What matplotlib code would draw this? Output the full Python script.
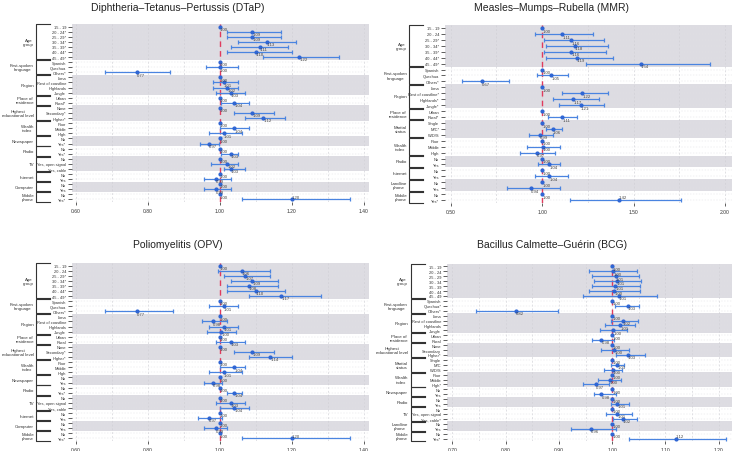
import numpy as np
import matplotlib.pyplot as plt
from matplotlib.transforms import blended_transform_factory

plt.rcParams['font.family'] = ['Liberation Sans', 'DejaVu Sans']

nan = np.nan

# ---------------- DTaP ----------------
dtap_groups = ["Age\ngroup", "First-spoken\nlanguage", "Region", "Place of\nresidence",
               "Highest\neducational level", "Wealth\nindex", "Newspaper", "Radio", "TV",
               "Internet", "Computer", "Mobile\nphone"]
dtap_sizes = [7, 3, 4, 2, 3, 3, 2, 2, 3, 2, 2, 2]
dtap_rows = ["15 - 19", "20 - 24*", "25 - 29*", "30 - 34*", "35 - 39*", "40 - 44*", "45 - 49*",
             "Spanish", "Quechua", "Others*",
             "Lima", "Rest of coastline", "Highlands", "Jungle",
             "Urban", "Rural*",
             "None", "Secondary*", "Higher*",
             "Poor", "Middle", "High",
             "No", "Yes*",
             "No", "Yes*",
             "No", "Yes, open signal", "Yes, cable",
             "No", "Yes",
             "No", "Yes",
             "No", "Yes*"]
dtap_or = [1.00, 1.09, 1.09, 1.13, 1.11, 1.10, 1.22,
           1.00, 1.00, 0.77,
           1.00, 1.01, 1.02, 1.03,
           1.00, 1.04,
           1.00, 1.09, 1.12,
           1.00, 1.04, 1.01,
           1.00, 0.97,
           1.00, 1.03,
           1.00, 1.02, 1.03,
           1.00, 0.99,
           1.00, 0.99,
           1.00, 1.20]
dtap_lo = [nan, 1.02, 1.02, 1.05, 1.03, 1.02, 1.12,
           nan, 0.96, 0.68,
           nan, 0.98, 0.98, 0.99,
           nan, 1.003,
           nan, 1.04, 1.07,
           nan, 1.00, 0.97,
           nan, 0.945,
           nan, 1.002,
           nan, 0.975, 1.01,
           nan, 0.955,
           nan, 0.955,
           nan, 1.06]
dtap_hi = [nan, 1.17, 1.17, 1.21, 1.19, 1.20, 1.33,
           nan, 1.05, 0.86,
           nan, 1.05, 1.05, 1.07,
           nan, 1.08,
           nan, 1.15, 1.18,
           nan, 1.08, 1.06,
           nan, 0.998,
           nan, 1.05,
           nan, 1.05, 1.07,
           nan, 1.03,
           nan, 1.03,
           nan, 1.36]

# ---------------- MMR ----------------
mmr_groups = ["Age\ngroup", "First-spoken\nlanguage", "Region", "Place of\nresidence",
              "Marital\nstatus", "Wealth\nindex", "Radio", "Internet", "Landline\nphone",
              "Mobile\nphone"]
mmr_sizes = [7, 3, 4, 2, 3, 3, 2, 2, 2, 2]
mmr_rows = ["15 - 19", "20 - 24", "25 - 29*", "30 - 34*", "35 - 39*", "40 - 44*", "45 - 49*",
            "Spanish", "Quechua", "Others*",
            "Lima", "Rest of coastline*", "Highlands*", "Jungle*",
            "Urban", "Rural*",
            "Single", "M/C*", "W/D/S",
            "Poor", "Middle", "High",
            "No", "Yes",
            "No", "Yes",
            "No", "Yes",
            "No", "Yes*"]
mmr_or = [1.00, 1.11, 1.16, 1.18, 1.16, 1.19, 1.54,
          1.00, 1.05, 0.67,
          1.00, 1.22, 1.17, 1.21,
          1.00, 1.11,
          1.00, 1.06, 0.99,
          1.00, 1.004, 0.97,
          1.00, 1.04,
          1.00, 1.04,
          1.00, 0.94,
          1.00, 1.42]
mmr_lo = [nan, 0.96, 1.01, 1.02, 1.01, 1.02, 1.24,
          nan, 0.97, 0.56,
          nan, 1.11, 1.06, 1.09,
          nan, 1.03,
          nan, 1.02, 0.93,
          nan, 0.92, 0.88,
          nan, 0.98,
          nan, 0.96,
          nan, 0.81,
          nan, 1.15]
mmr_hi = [nan, 1.28, 1.34, 1.36, 1.35, 1.39, 1.92,
          nan, 1.14, 0.82,
          nan, 1.36, 1.31, 1.34,
          nan, 1.19,
          nan, 1.11, 1.06,
          nan, 1.10, 1.07,
          nan, 1.10,
          nan, 1.14,
          nan, 1.10,
          nan, 1.76]

# ---------------- OPV ----------------
opv_groups = dtap_groups
opv_sizes = dtap_sizes
opv_rows = ["15 - 19", "20 - 24", "25 - 29*", "30 - 34*", "35 - 39*", "40 - 44*", "45 - 49*",
            "Spanish", "Quechua", "Others*",
            "Lima", "Rest of coastline", "Highlands", "Jungle",
            "Urban", "Rural",
            "None", "Secondary*", "Higher*",
            "Poor", "Middle", "High",
            "No", "Yes",
            "No", "Yes*",
            "No", "Yes, open signal", "Yes, cable",
            "No", "Yes",
            "No", "Yes",
            "No", "Yes*"]
opv_or = [1.00, 1.06, 1.07, 1.09, 1.08, 1.10, 1.17,
          1.00, 1.01, 0.77,
          1.00, 0.98, 1.01, 1.004,
          1.00, 1.03,
          1.00, 1.09, 1.14,
          1.00, 1.04, 1.01,
          1.00, 0.98,
          1.00, 1.04,
          1.00, 1.03, 1.04,
          1.00, 0.97,
          1.00, 0.99,
          1.00, 1.20]
opv_lo = [nan, 0.995, 1.01, 1.03, 1.02, 1.02, 1.08,
          nan, 0.97, 0.68,
          nan, 0.95, 0.97, 0.965,
          nan, 0.99,
          nan, 1.04, 1.08,
          nan, 0.999, 0.97,
          nan, 0.955,
          nan, 1.02,
          nan, 0.99, 1.00,
          nan, 0.94,
          nan, 0.955,
          nan, 1.06]
opv_hi = [nan, 1.14, 1.14, 1.16, 1.16, 1.18, 1.28,
          nan, 1.05, 0.87,
          nan, 1.02, 1.05, 1.045,
          nan, 1.07,
          nan, 1.15, 1.20,
          nan, 1.07, 1.06,
          nan, 1.005,
          nan, 1.06,
          nan, 1.07, 1.08,
          nan, 1.007,
          nan, 1.02,
          nan, 1.36]

# ---------------- BCG ----------------
bcg_groups = ["Age\ngroup", "First-spoken\nlanguage", "Region", "Place of\nresidence",
              "Highest\neducational level", "Marital\nstatus", "Wealth\nindex", "Newspaper",
              "Radio", "TV", "Landline\nphone", "Mobile\nphone"]
bcg_sizes = [7, 3, 4, 2, 3, 3, 3, 2, 2, 3, 2, 2]
bcg_rows = ["15 - 19", "20 - 24", "25 - 29", "30 - 34", "35 - 39", "40 - 44", "45 - 49",
            "Spanish", "Quechua*", "Others*",
            "Lima", "Rest of coastline", "Highlands", "Jungle",
            "Urban", "Rural",
            "None", "Secondary", "Higher*",
            "Single", "M/C", "W/D/S",
            "Poor", "Middle", "High*",
            "No", "Yes",
            "No", "Yes",
            "No", "Yes, open signal", "Yes, cable*",
            "No", "Yes",
            "No", "Yes*"]
bcg_or = [1.00, 1.002, 1.007, 1.009, 1.006, 1.004, 1.012,
          1.00, 1.03, 0.82,
          1.00, 1.02, 1.015, 1.002,
          1.00, 0.98,
          1.00, 1.004, 1.03,
          1.00, 1.01, 1.001,
          1.00, 0.996, 0.97,
          1.00, 0.98,
          1.00, 1.01,
          1.00, 1.01, 1.02,
          1.00, 0.96,
          1.00, 1.12]
bcg_lo = [nan, 0.957, 0.963, 0.966, 0.963, 0.956, 0.945,
          nan, 1.006, 0.744,
          nan, 0.998, 0.987, 0.977,
          nan, 0.962,
          nan, 0.979, 1.007,
          nan, 0.998, 0.984,
          nan, 0.974, 0.945,
          nan, 0.966,
          nan, 0.998,
          nan, 0.989, 1.002,
          nan, 0.923,
          nan, 1.032]
bcg_hi = [nan, 1.046, 1.051, 1.054, 1.052, 1.053, 1.084,
          nan, 1.051, 0.898,
          nan, 1.048, 1.042, 1.028,
          nan, 1.004,
          nan, 1.031, 1.062,
          nan, 1.023, 1.018,
          nan, 1.017, 0.994,
          nan, 1.007,
          nan, 1.031,
          nan, 1.037, 1.047,
          nan, 1.007,
          nan, 1.214]

W, H = 733, 452
BAND = '#dddce2'
BLUE = '#4a84e0'
DOT = '#2f66d4'
RED = '#e03c5e'

fig = plt.figure(figsize=(W / 100, H / 100), dpi=100)


def draw_panel(rect, title, title_xy, groups, sizes, rows, est, lo, hi,
               xlim, xticks, label_x, bracket_x):
    ax = fig.add_axes(rect)
    n = len(rows)
    y = np.arange(n)
    est = np.array(est)
    lo = np.array(lo)
    hi = np.array(hi)
    ax.set_xlim(*xlim)
    ax.set_ylim(n - 0.5, -0.5)
    ax.set_axisbelow(True)

    trans = blended_transform_factory(fig.transFigure, ax.transData)
    start = 0
    for i, (g, s) in enumerate(zip(groups, sizes)):
        top, bot = start - 0.5, start + s - 0.5
        if i % 2 == 0:
            ax.axhspan(top, bot, color=BAND, lw=0, zorder=0)
        bx0, bx1 = bracket_x[0] / W, bracket_x[1] / W
        ax.plot([bx1, bx0, bx0, bx1], [top + 0.08, top + 0.08, bot - 0.08, bot - 0.08],
                transform=trans, color='#333333', lw=0.8, clip_on=False)
        ax.text(label_x / W, (top + bot) / 2, g, transform=trans, ha='right', va='center',
                multialignment='center', fontsize=3.2, color='#333333', linespacing=1.05)
        start += s

    ax.axvline(1.0, color=RED, lw=1.0, ls=(0, (4, 3)), zorder=2)

    has_ci = ~np.isnan(lo)
    ax.errorbar(est[has_ci], y[has_ci],
                xerr=[est[has_ci] - lo[has_ci], hi[has_ci] - est[has_ci]],
                fmt='none', ecolor=BLUE, elinewidth=0.9, capsize=1.6, capthick=0.9, zorder=3)
    ax.plot(est, y, 'o', color=DOT, ms=2.0, mec=DOT, zorder=4)

    for i in range(n):
        dy = -0.5 if i == n - 1 else 0.45
        ax.text(est[i], y[i] + dy, f"{est[i]:.2f}", fontsize=3.1, color='#444444',
                ha='left', va='center', zorder=5)

    ax.set_yticks(y)
    ax.set_yticklabels(rows, fontsize=2.9, color='#333333')
    ax.tick_params(axis='y', length=3.2, width=0.6, pad=1, color='#444444')
    ax.set_xticks(xticks)
    ax.set_xticklabels([f"{t:.2f}" for t in xticks], fontsize=3.6, color='#333333')
    ax.tick_params(axis='x', length=2.5, width=0.6, pad=2, color='#444444')
    minor = np.array(xticks[:-1]) + (xticks[1] - xticks[0]) / 2
    ax.set_xticks(minor, minor=True)
    ax.tick_params(axis='x', which='minor', length=0)
    ax.grid(True, axis='x', which='both', ls=(0, (3, 3)), color='#cfcfd4', lw=0.45)
    ax.grid(True, axis='y', ls=(0, (3, 3)), color='#e2e2e6', lw=0.35)
    for sp in ax.spines.values():
        sp.set_visible(False)

    fig.text(title_xy[0] / W, 1 - title_xy[1] / H, title, ha='center', va='center',
             fontsize=7.5, color='#222222')
    return ax


draw_panel([72 / W, 1 - 203 / H, 297 / W, 178 / H], "Diphtheria–Tetanus–Pertussis (DTaP)",
           (178, 8), dtap_groups, dtap_sizes, dtap_rows, dtap_or, dtap_lo, dtap_hi,
           (0.589, 1.414), [0.6, 0.8, 1.0, 1.2, 1.4], 34, (36, 50))

draw_panel([445 / W, 1 - 204 / H, 287 / W, 178 / H], "Measles–Mumps–Rubella (MMR)",
           (552, 8), mmr_groups, mmr_sizes, mmr_rows, mmr_or, mmr_lo, mmr_hi,
           (0.469, 2.038), [0.5, 1.0, 1.5, 2.0], 407, (409, 423))

draw_panel([72 / W, 1 - 442 / H, 297 / W, 178 / H], "Poliomyelitis (OPV)",
           (178, 245), opv_groups, opv_sizes, opv_rows, opv_or, opv_lo, opv_hi,
           (0.589, 1.414), [0.6, 0.8, 1.0, 1.2, 1.4], 34, (36, 50))

draw_panel([447 / W, 1 - 442 / H, 285 / W, 177 / H], "Bacillus Calmette–Guérin (BCG)",
           (552, 245), bcg_groups, bcg_sizes, bcg_rows, bcg_or, bcg_lo, bcg_hi,
           (0.690, 1.225), [0.7, 0.8, 0.9, 1.0, 1.1, 1.2], 408, (411, 425))

fig.savefig("out.png", dpi=100)
